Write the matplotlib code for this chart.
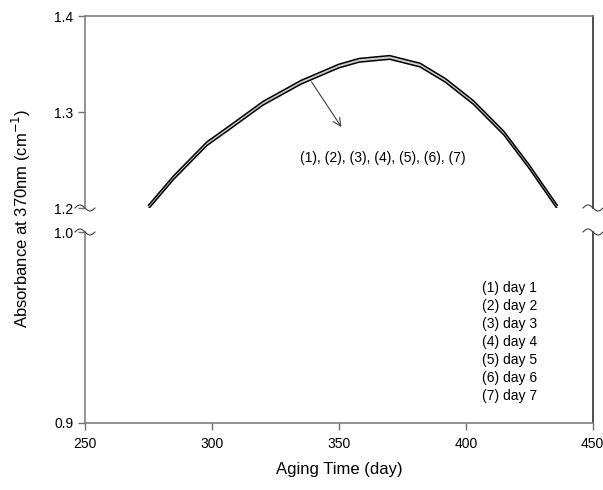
import matplotlib.pyplot as plt
import numpy as np

plt.rcParams['font.family'] = ['Liberation Sans', 'DejaVu Sans']

# aging time (day) and absorbance at 370nm
days = [275, 285, 298, 307, 320, 335, 350, 358, 370, 382, 392, 403, 415, 425, 436]
absorb = [1.201, 1.232, 1.267, 1.284, 1.309, 1.331, 1.348, 1.354, 1.357,
          1.349, 1.333, 1.310, 1.278, 1.243, 1.201]
# small day-to-day offset of the 7 curves (they almost overlap)
day_offset = [-0.0019, -0.0013, -0.0007, 0.0, 0.0007, 0.0013, 0.0019]
day_labels = ['(1) day 1', '(2) day 2', '(3) day 3', '(4) day 4',
              '(5) day 5', '(6) day 6', '(7) day 7']

fig = plt.figure(figsize=(6.03, 4.9), dpi=100)
ax_top = fig.add_axes([0.141, 0.5755, 0.842, 0.3915])
ax_bot = fig.add_axes([0.141, 0.137, 0.842, 0.3895])

for ax in (ax_top, ax_bot):
    for i, off in enumerate(day_offset):
        # outer curves come out dark, the inner ones pale
        outer = i in (0, len(day_offset) - 1)
        ax.plot(days, np.array(absorb) + off,
                color='black' if outer else '#c8c8c8',
                lw=1.1 if outer else 0.6, zorder=3 if outer else 2)
    ax.set_xlim(250, 450)
    ax.tick_params(direction='out', length=5, width=1, color='#707070',
                   labelsize=10)
    for sp in ax.spines.values():
        sp.set_color('#808080')
        sp.set_linewidth(1.2)
    ax.spines['right'].set_color('#303030')

ax_top.set_ylim(1.2, 1.4)
ax_top.set_yticks([1.2, 1.3, 1.4])
ax_top.set_xticks([])
ax_top.spines['bottom'].set_visible(False)

ax_bot.set_ylim(0.9, 1.0)
ax_bot.set_yticks([0.9, 1.0])
ax_bot.set_xticks([250, 300, 350, 400, 450])
ax_bot.spines['top'].set_visible(False)
ax_bot.tick_params(axis='x', pad=5)
ax_bot.tick_params(axis='y', right=False)
ax_bot.set_xlabel('Aging Time (day)', fontsize=12, labelpad=8)

fig.text(0.036, 0.555, 'Absorbance at 370nm (cm$^{-1}$)', rotation=90,
         ha='center', va='center', fontsize=12)

# break marks
t = np.linspace(0, 1, 40)
for xc in (85, 593):
    for yc in (208, 232):
        xs = xc - 10 + 20 * t
        ys = yc - 3 * np.sin(2 * np.pi * t)
        fig.add_artist(plt.Line2D(xs / 603, 1 - ys / 490, color='#404040',
                                  lw=0.8))

ax_top.annotate('', xy=(351.6, 1.282), xytext=(338.6, 1.334),
                arrowprops=dict(arrowstyle='->', color='#404040', lw=0.8,
                                mutation_scale=14))
ax_top.text(367.3, 1.252, '(1), (2), (3), (4), (5), (6), (7)', ha='center',
            va='center', fontsize=10)

for i, lab in enumerate(day_labels):
    ax_bot.text(406.5, 0.9707 - i * 0.00942, lab, ha='left', va='center',
                fontsize=10)

fig.savefig('out.png', dpi=100)
